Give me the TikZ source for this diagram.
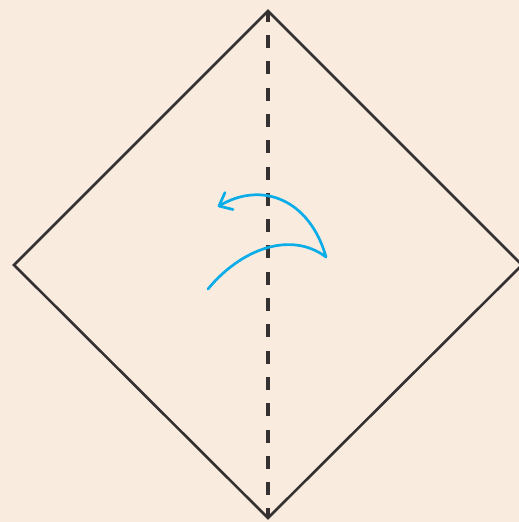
\documentclass[tikz,border=0pt]{standalone}
\usepackage{tikz}
\definecolor{bg}{HTML}{FAEBDF}
\definecolor{ink}{HTML}{353132}
\definecolor{fold}{HTML}{0AADE8}
\begin{document}
\begin{tikzpicture}[x=1pt,y=-1pt,
  edge/.style={draw=ink,line width=2.6pt,line join=miter},
  crease/.style={draw=ink,line width=3.2pt,dash pattern=on 13pt off 13.3pt,dash phase=2.3pt},
  foldarrow/.style={draw=fold,line width=2.7pt,line cap=round,line join=round}]
\fill[bg] (0,0) rectangle (519,522);
\useasboundingbox (0,0) rectangle (519,522);
\coordinate (T) at (268,11);
\coordinate (B) at (268,518);
\coordinate (L) at (14,265);
\coordinate (R) at (522,265);
\draw[edge] (T) -- (R) -- (B) -- (L) -- cycle;
\draw[crease] (T) -- (B);
\coordinate (S) at (208,289);
\coordinate (C) at (326,257);
\coordinate (E) at (219,206);
\draw[foldarrow] (S) .. controls (240,250) and (290,230) .. (C)
  .. controls (310,200) and (262,180) .. (E);
\draw[foldarrow] (225,192.5) -- (E) -- (233,209.5);
\end{tikzpicture}
\end{document}
